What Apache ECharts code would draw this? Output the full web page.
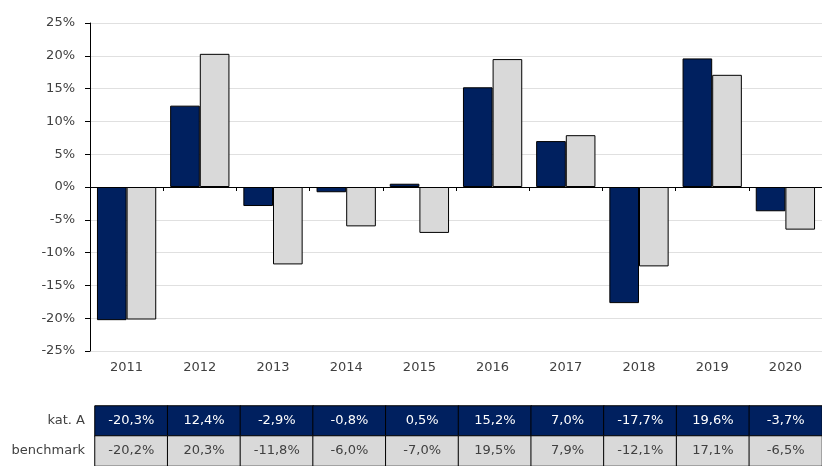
<!DOCTYPE html>
<html>
<head>
<meta charset="utf-8">
<script src="https://cdn.jsdelivr.net/npm/echarts@6/dist/echarts.min.js"></script>
<style>
  html, body { margin: 0; padding: 0; background: #fff; }
  #chart { width: 822px; height: 466px; }
</style>
</head>
<body>
<div id="chart"></div>
<script>
var years = ['2011', '2012', '2013', '2014', '2015', '2016', '2017', '2018', '2019', '2020'];
var katA = [-20.3, 12.4, -2.9, -0.8, 0.5, 15.2, 7.0, -17.7, 19.6, -3.7];
var benchmark = [-20.2, 20.3, -11.8, -6.0, -7.0, 19.5, 7.9, -12.1, 17.1, -6.5];
var rowNames = ['kat. A', 'benchmark'];

var navy = '#00205f';
var grey = '#d9d9d9';
var textColor = '#404040';
var fontFamily = 'DejaVu Sans';
var fontSize = 13;

var chart = echarts.init(document.getElementById('chart'));

function fmt(v) {
  return v.toFixed(1).replace('.', ',') + '%';
}

// cells of the little table under the chart, one row per series
function tableData() {
  var rows = [katA, benchmark];
  var out = [];
  for (var r = 0; r < rows.length; r++) {
    for (var i = 0; i < years.length; i++) {
      out.push({
        value: [i, r, rows[r][i]],
        itemStyle: { color: r === 0 ? navy : grey },
        label: { color: r === 0 ? '#ffffff' : textColor }
      });
    }
  }
  return out;
}

chart.setOption({
  animation: false,
  textStyle: { fontFamily: fontFamily },
  grid: [
    { left: 90, top: 23, width: 733, height: 328 },
    { left: 95, top: 406, width: 733, height: 62 }
  ],
  xAxis: [{
    type: 'category',
    gridIndex: 0,
    position: 'bottom',
    data: years,
    axisLine: { onZero: true, lineStyle: { color: '#000', width: 1 } },
    axisTick: { show: true, length: 4, lineStyle: { color: '#000' } },
    axisLabel: { show: false },
    splitLine: { show: false }
  }, {
    type: 'category',
    gridIndex: 0,
    position: 'bottom',
    data: years,
    axisLine: { show: false, onZero: false },
    axisTick: { show: false },
    axisLabel: { color: textColor, fontSize: fontSize, margin: 10, fontFamily: fontFamily },
    splitLine: { show: false }
  }, {
    type: 'category',
    gridIndex: 1,
    data: years,
    show: false
  }],
  yAxis: [{
    type: 'value',
    gridIndex: 0,
    min: -25,
    max: 25,
    interval: 5,
    axisLine: { show: true, lineStyle: { color: '#000', width: 1 } },
    axisTick: { show: true, length: 5, lineStyle: { color: '#000' } },
    axisLabel: {
      color: textColor,
      fontSize: fontSize,
      margin: 15,
      fontFamily: fontFamily,
      formatter: function (v) { return v + '%'; }
    },
    splitLine: { show: true, lineStyle: { color: '#e0e0e0', width: 1 } }
  }, {
    type: 'category',
    gridIndex: 1,
    data: rowNames,
    inverse: true,
    axisLine: { show: false },
    axisTick: { show: false },
    axisLabel: { color: textColor, fontSize: fontSize, margin: 10, fontFamily: fontFamily },
    splitLine: { show: false }
  }],
  series: [{
    name: 'kat. A',
    type: 'bar',
    xAxisIndex: 0,
    yAxisIndex: 0,
    data: katA,
    barGap: '0%',
    barCategoryGap: '19%',
    itemStyle: { color: navy, borderColor: '#000', borderWidth: 1 }
  }, {
    name: 'benchmark',
    type: 'bar',
    xAxisIndex: 0,
    yAxisIndex: 0,
    data: benchmark,
    barGap: '0%',
    barCategoryGap: '19%',
    itemStyle: { color: grey, borderColor: '#000', borderWidth: 1 }
  }, {
    name: 'table',
    type: 'heatmap',
    xAxisIndex: 2,
    yAxisIndex: 1,
    data: tableData(),
    itemStyle: { borderColor: '#000', borderWidth: 1 },
    label: {
      show: true,
      fontSize: fontSize,
      fontFamily: fontFamily,
      formatter: function (p) { return fmt(p.value[2]); }
    },
    emphasis: { disabled: true }
  }]
});
</script>
</body>
</html>
